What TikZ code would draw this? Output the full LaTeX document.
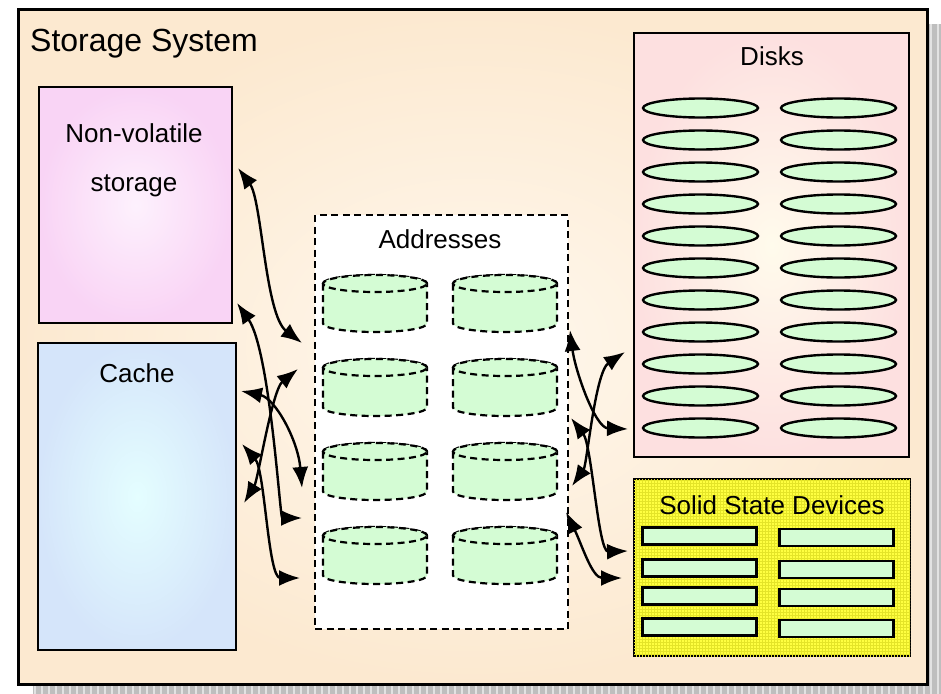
\documentclass[tikz,border=0pt]{standalone}
\usepackage{fontspec}
\setmainfont{Liberation Sans}
\usepackage{tikz}
\usetikzlibrary{arrows.meta,calc,patterns,positioning,shapes.geometric}
\definecolor{peach}{RGB}{252,233,208}
\definecolor{peachlight}{RGB}{255,248,238}
\definecolor{orchid}{RGB}{249,212,245}
\definecolor{orchidlight}{RGB}{253,241,253}
\definecolor{sky}{RGB}{213,229,250}
\definecolor{skylight}{RGB}{228,254,255}
\definecolor{rose}{RGB}{253,224,224}
\definecolor{roselight}{RGB}{255,251,236}
\definecolor{mint}{RGB}{212,252,212}
\definecolor{lemon}{RGB}{255,255,64}
\definecolor{lemondark}{RGB}{228,228,40}
\definecolor{shadowgray}{RGB}{190,190,190}
\tikzset{%
	frame/.style    = {draw, rectangle, anchor=north west, inner sep=0pt, line width=2.2pt},
	captext/.style  = {anchor=base, inner sep=0pt, font=\fontsize{26}{30}\selectfont},
	platter/.style  = {draw, ellipse, fill=mint, line width=2.4pt, minimum width=115pt, minimum height=19pt, inner sep=0pt},
	chip/.style     = {draw, rectangle, fill=mint, line width=2.4pt, minimum width=114pt, minimum height=17pt, inner sep=0pt},
	cylline/.style  = {draw, fill=mint, line width=2.2pt, dash pattern=on 7pt off 4.5pt},
	link/.style     = {line width=2.4pt, arrows={Latex[length=21pt,width=16pt]-Latex[length=21pt,width=16pt]}},
	addrcyl/.pic    = {
		\path[cylline] (-52pt,0pt) -- (-52pt,-40pt) arc[start angle=180, end angle=360, x radius=52pt, y radius=8.5pt]
			-- (52pt,0pt) arc[start angle=0, end angle=180, x radius=52pt, y radius=8.5pt] -- cycle;
		\path[cylline] (0,0) ellipse[x radius=52pt, y radius=8.5pt];
	},
}

\begin{document}
\begin{tikzpicture}[x=1pt,y=-1pt,node distance=32pt]
	\useasboundingbox (0,0) rectangle (941,693);
	% shadow
	\fill[shadowgray] (33,24) rectangle (945,700);
	\draw[white!55!shadowgray, line width=1.4pt, step=7] (33,24) grid (945,700);

	\node[frame, line width=3pt, minimum width=909pt, minimum height=675pt, shading=radial, outer color=peach, inner color=peachlight] (sys) at (17,8) {};
	\node[anchor=base west, inner sep=0pt, font=\fontsize{32}{36}\selectfont] (title) at (30,52) {Storage System};

	\node[frame, minimum width=193pt, minimum height=236pt, shading=radial, outer color=orchid, inner color=orchidlight] (nvs) at (38,86) {};
	\node[captext] (nvsa) at (134,142) {Non-volatile};
	\node[captext] (nvsb) at (134,191) {storage};

	\node[frame, minimum width=198pt, minimum height=307pt, shading=radial, outer color=sky, inner color=skylight] (cache) at (37,342) {};
	\node[captext] (cachet) at (137,382) {Cache};

	\node[frame, fill=white, dash pattern=on 7pt off 4.5pt, minimum width=253pt, minimum height=414pt] (addr) at (314,214) {};
	\node[captext] (addrt) at (440,248) {Addresses};
	\foreach \y in {283.5,367.5,451.5,535.5} {
		\pic at (375,\y) {addrcyl};
		\pic at (505,\y) {addrcyl};
	}

	\node[frame, minimum width=275pt, minimum height=424pt, shading=radial, outer color=rose, inner color=roselight] (disks) at (633,32) {};
	\node[captext] (diskst) at (772,65) {Disks};
	\node[platter] (dl1) at (700.5,108) {};
	\foreach \k [count=\j from 2] in {1,...,10}
		\node[platter] (dl\j) [below of=dl\k] {};
	\foreach \k in {1,...,11}
		\node[platter] (dr\k) [right of=dl\k, node distance=138pt] {};

	\node[frame, fill=lemon, postaction={pattern=grid, pattern color=lemondark}, minimum width=276pt, minimum height=177pt] (ssd) at (633,478) {};
	\node[captext] (ssdt) at (772,514) {Solid State Devices};
	\foreach \y [count=\k] in {536,568,596,627} {
		\node[chip] (sl\k) at (699.5,\y) {};
		\node[chip] (sr\k) at (836.5,{\y+1.5}) {};
	}

	\coordinate (a1) at (238,168);  \coordinate (a2) at (302,343);
	\coordinate (b1) at (237,303);  \coordinate (b2) at (302,518);
	\coordinate (c1) at (241,391);  \coordinate (c2) at (302,488);
	\coordinate (d1) at (298,369);  \coordinate (d2) at (244,503);
	\coordinate (e1) at (242,444);  \coordinate (e2) at (300,578);
	\coordinate (f1) at (570,330);  \coordinate (f2) at (628,429);
	\coordinate (g1) at (625,352);  \coordinate (g2) at (572,486);
	\coordinate (h1) at (571,418);  \coordinate (h2) at (628,551);
	\coordinate (i1) at (566,512);  \coordinate (i2) at (622,578);

	\draw[link] (a1) .. controls (262,200) and (265,315) .. (a2);
	\draw[link] (b1) .. controls (270,350) and (280,518) .. (b2);
	\draw[link] (c1) .. controls (275,398) and (298,440) .. (c2);
	\draw[link] (d1) .. controls (272,390) and (258,480) .. (d2);
	\draw[link] (e1) .. controls (265,470) and (268,578) .. (e2);
	\draw[link] (f1) .. controls (575,370) and (595,428) .. (f2);
	\draw[link] (g1) .. controls (595,372) and (587,465) .. (g2);
	\draw[link] (h1) .. controls (592,445) and (598,552) .. (h2);
	\draw[link] (i1) .. controls (582,545) and (592,578) .. (i2);
\end{tikzpicture}
\end{document}
